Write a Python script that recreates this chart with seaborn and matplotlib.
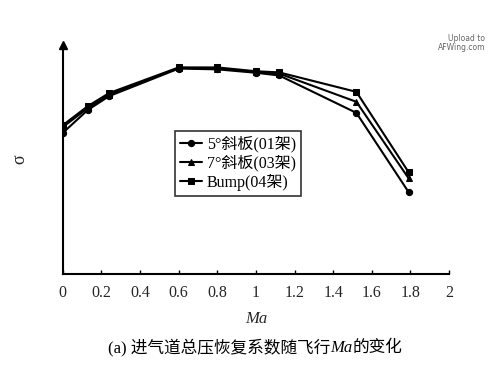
import matplotlib
matplotlib.use("Agg")
import matplotlib.pyplot as plt
import seaborn as sns
import pandas as pd

sns.set_theme(style="white")
plt.rcParams['font.family'] = ['Liberation Serif', 'Noto Sans CJK SC']

mach = [0, 0.13, 0.24, 0.6, 0.8, 1.0, 1.12, 1.52, 1.79]
sigma_5deg = [0.770, 0.830, 0.866, 0.938, 0.936, 0.927, 0.920, 0.822, 0.615]
sigma_7deg = [0.785, 0.835, 0.870, 0.940, 0.938, 0.929, 0.925, 0.851, 0.651]
sigma_bump = [0.790, 0.840, 0.874, 0.941, 0.941, 0.931, 0.928, 0.877, 0.667]
series_names = ["5°斜板(01架)", "7°斜板(03架)", "Bump(04架)"]
x_ticks = [0, 0.2, 0.4, 0.6, 0.8, 1, 1.2, 1.4, 1.6, 1.8, 2]
x_tick_labels = ["0", "0.2", "0.4", "0.6", "0.8", "1", "1.2", "1.4", "1.6", "1.8", "2"]

df = pd.concat([
    pd.DataFrame({"Ma": mach, "sigma": s, "series": n})
    for s, n in zip([sigma_5deg, sigma_7deg, sigma_bump], series_names)
])

fig = plt.figure(figsize=(4.99, 3.74), dpi=100)
ax = fig.add_axes([0.126, 0.267, 0.774, 0.613])

sns.lineplot(data=df, x="Ma", y="sigma", hue="series", style="series",
             markers={series_names[0]: "o", series_names[1]: "^", series_names[2]: "s"},
             dashes=False, palette=["black"] * 3, linewidth=1.5,
             markersize=4.5, markeredgecolor="black", ax=ax, legend=True)

ax.set_xlim(0, 2)
ax.set_ylim(0.4, 1.0)
ax.set_xticks(x_ticks)
ax.set_xticklabels(x_tick_labels, fontsize=11.5)
ax.set_yticks([])
ax.tick_params(axis="x", direction="in", length=3, width=1, color="black", pad=8, bottom=True)
for side in ["top", "right"]:
    ax.spines[side].set_visible(False)
for side in ["left", "bottom"]:
    ax.spines[side].set_color("black")
    ax.spines[side].set_linewidth(1.5)
ax.plot(0, 1.0, marker="^", color="black", markersize=6, clip_on=False)

ax.set_xlabel("Ma", fontsize=12, style="italic", labelpad=7)
ax.set_ylabel("σ", fontsize=13, labelpad=25)

leg = ax.legend(loc="upper left", bbox_to_anchor=(0.27, 0.66), fontsize=11.5,
                frameon=True, fancybox=False, handlelength=1.4, handletextpad=0.3,
                borderpad=0.3, labelspacing=0.15)
leg.get_frame().set_edgecolor("black")
leg.get_frame().set_linewidth(1.2)
for t in leg.get_texts():
    t.set_color("black")

# caption composed of three pieces, centred as a whole
cap_y = 0.070
parts = [("(a) 进气道总压恢复系数随飞行", "normal"), ("Ma", "italic"), ("的变化", "normal")]
texts = [fig.text(0, cap_y, s, fontsize=12, style=st, ha="left", va="center", color="black")
         for s, st in parts]
fig.canvas.draw()
r = fig.canvas.get_renderer()
widths = [t.get_window_extent(r).width for t in texts]
total = sum(widths)
fig_w = fig.get_figwidth() * fig.dpi
x0 = 255 - total / 2
for t, w in zip(texts, widths):
    t.set_x(x0 / fig_w)
    x0 += w

fig.text(0.972, 0.885, "Upload to\nAFWing.com", fontsize=5.5, ha="right", va="center",
         color="#666666", family="DejaVu Sans", linespacing=1.1, multialignment="right")

fig.savefig("out.png", dpi=100)
